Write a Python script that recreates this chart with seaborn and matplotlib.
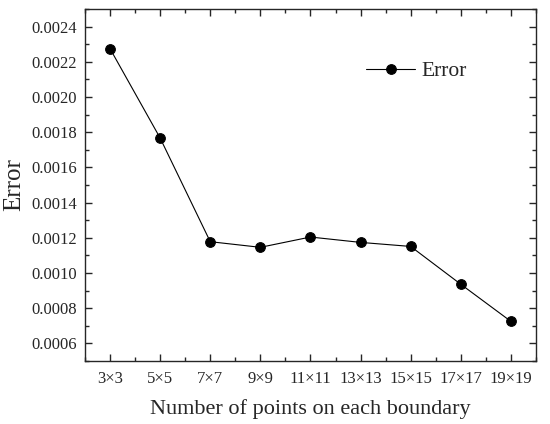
import matplotlib
matplotlib.use('Agg')
import matplotlib.pyplot as plt
import seaborn as sns
import pandas as pd
from matplotlib.ticker import MultipleLocator

# データ
grid_labels = ['3×3', '5×5', '7×7', '9×9', '11×11', '13×13', '15×15', '17×17', '19×19']
errors = [0.002275, 0.001767, 0.001178, 0.001146, 0.0012045, 0.001174, 0.001151, 0.000936, 0.000725]

df = pd.DataFrame({'grid': grid_labels, 'error': errors})

sns.set_style('ticks')
plt.rcParams['font.family'] = ['Liberation Serif', 'DejaVu Serif']

fig = plt.figure(figsize=(5.5, 4.24), dpi=100)
ax = fig.add_axes([0.1545, 0.1486, 0.82, 0.830])

sns.lineplot(data=df, x='grid', y='error', sort=False, ax=ax, color='black',
             linewidth=0.8, marker='o', markersize=7, markeredgecolor='black',
             label='Error')

ax.set_xlim(-0.5, 8.5)
ax.set_ylim(0.0005, 0.0025)
ax.yaxis.set_major_locator(MultipleLocator(0.0002))
ax.yaxis.set_minor_locator(MultipleLocator(0.0001))
ax.xaxis.set_minor_locator(MultipleLocator(0.5))
ax.yaxis.set_major_formatter(plt.FormatStrFormatter('%.4f'))

ax.tick_params(which='both', direction='in', top=True, right=True, width=1.0)
ax.tick_params(which='major', length=5)
ax.tick_params(which='minor', length=3)
ax.tick_params(axis='y', labelsize=12, pad=6)
ax.tick_params(axis='x', labelsize=12, pad=7)
for s in ax.spines.values():
    s.set_linewidth(1.0)

ax.set_xlabel('Number of points on each boundary', fontsize=16, labelpad=9)
ax.set_ylabel('Error', fontsize=18, labelpad=4)

ax.legend(loc='center left', bbox_to_anchor=(0.623, 0.824), frameon=False,
          fontsize=15.5, borderpad=0, borderaxespad=0, handlelength=2.3,
          handletextpad=0.3)

fig.savefig('out.png', dpi=100)
